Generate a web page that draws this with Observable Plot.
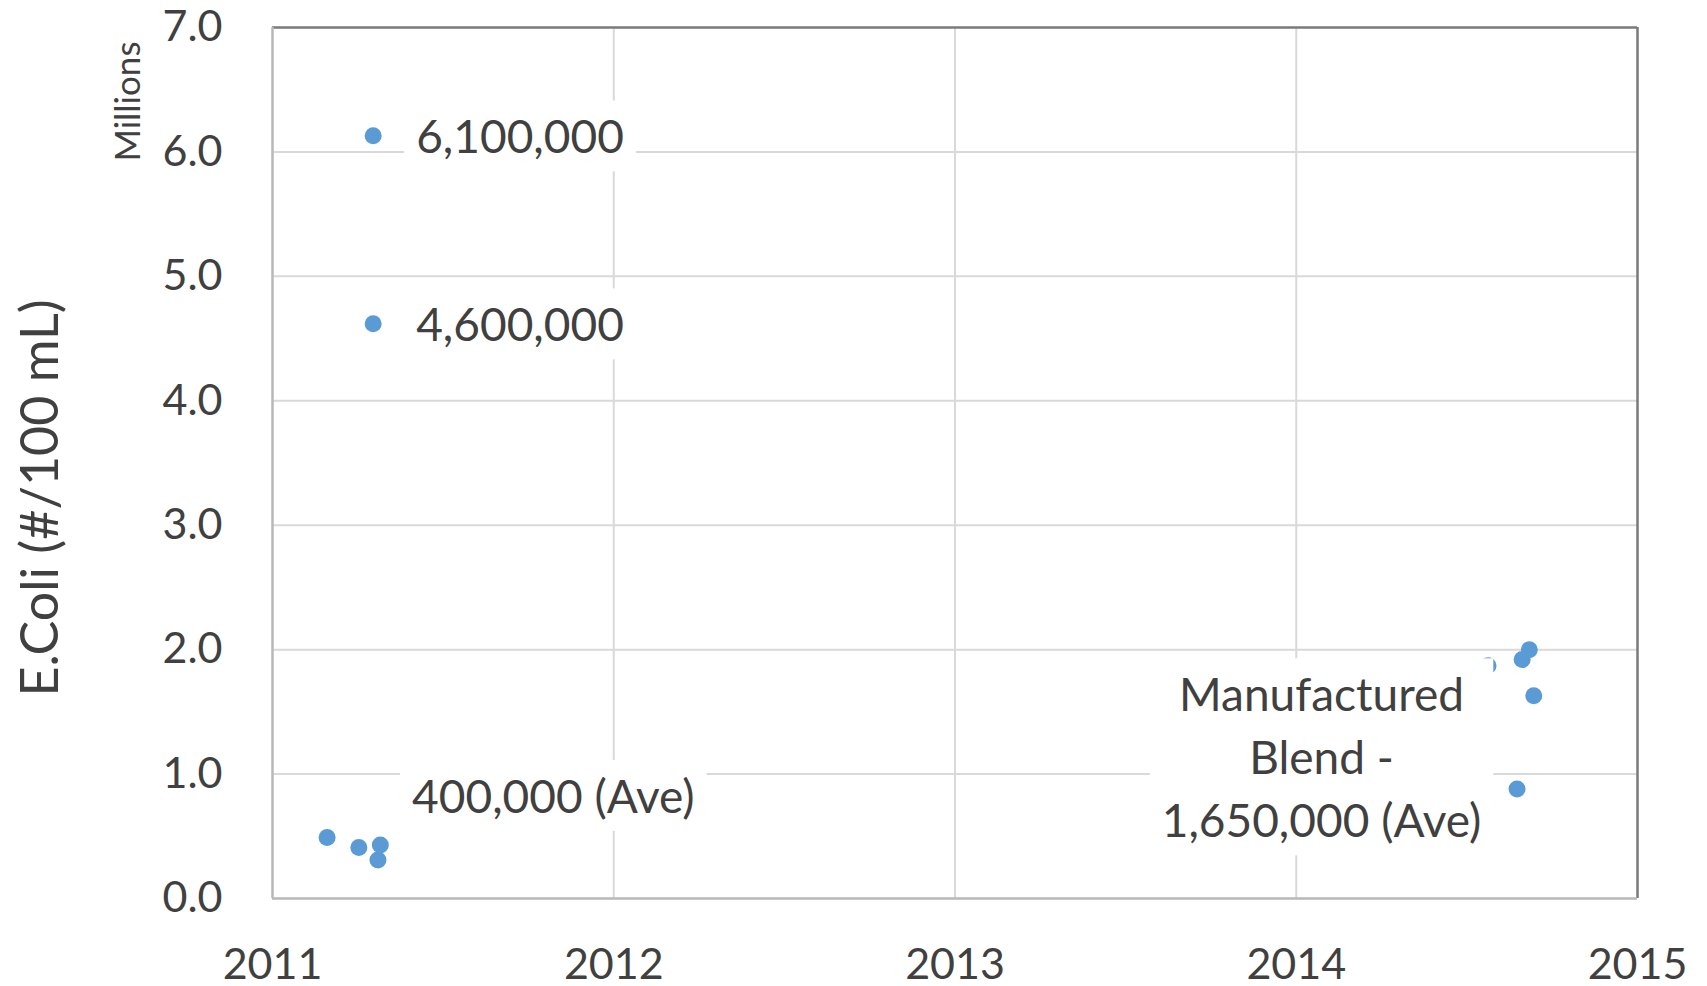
<!DOCTYPE html>
<html>
<head>
<meta charset="utf-8">
<script src="https://cdn.jsdelivr.net/npm/d3@7"></script>
<script src="https://cdn.jsdelivr.net/npm/@observablehq/plot@0.6"></script>
<style>
  html, body { margin: 0; padding: 0; background: #fff; }
</style>
</head>
<body>
<script>
// Sample dates (decimal year) and E. coli counts (millions per 100 mL)
const sampleDate = [2011.160, 2011.253, 2011.309, 2011.316, 2011.295, 2011.295, 2014.562, 2014.647, 2014.662, 2014.683, 2014.696];
const ecoliMillions = [0.49, 0.41, 0.31, 0.43, 6.13, 4.62, 1.87, 0.88, 1.92, 2.00, 1.63];

// Labelled individual points
const pointLabelDate = [2011.295, 2011.295];
const pointLabelValue = [6.13, 4.62];
const pointLabelText = ["6,100,000", "4,600,000"];

// Average annotations
const noteDate = [2011.823, 2014.074];
const noteValue = [0.85, 1.16];
const noteText = ["400,000 (Ave)", "Manufactured\nBlend -\n1,650,000 (Ave)"];

// Axes
const xTicks = [2011, 2012, 2013, 2014, 2015];
const yTicks = [0, 1, 2, 3, 4, 5, 6, 7];
const yTitle = "E.Coli (#/100 mL)";
const yUnit = "Millions";

const points = sampleDate.map((d, i) => ({date: d, value: ecoliMillions[i]}));
const pointLabels = pointLabelDate.map((d, i) => ({date: d, value: pointLabelValue[i], text: pointLabelText[i]}));
const notes = noteDate.map((d, i) => ({date: d, value: noteValue[i], text: noteText[i]}));

const textColor = "#404040";

const chart = Plot.plot({
  width: 1707,
  height: 986,
  marginLeft: 272,
  marginRight: 70,
  marginTop: 27,
  marginBottom: 88,
  style: {fontFamily: "Lato, sans-serif", fontSize: "43px", color: textColor, background: "#ffffff"},
  x: {domain: [xTicks[0], xTicks[xTicks.length - 1]]},
  y: {domain: [yTicks[0], yTicks[yTicks.length - 1]]},
  marks: [
    Plot.gridX(xTicks.slice(1, -1), {stroke: "#D9D9D9", strokeOpacity: 1, strokeWidth: 2}),
    Plot.gridY(yTicks.slice(1, -1), {stroke: "#D9D9D9", strokeOpacity: 1, strokeWidth: 2}),
    Plot.ruleX([xTicks[xTicks.length - 1]], {stroke: "#7A7A7A", strokeWidth: 2.5}),
    Plot.ruleY([yTicks[yTicks.length - 1]], {stroke: "#7A7A7A", strokeWidth: 2.5}),
    Plot.ruleX([xTicks[0]], {stroke: "#B8B8B8", strokeWidth: 2.5}),
    Plot.ruleY([yTicks[0]], {stroke: "#B8B8B8", strokeWidth: 2.5}),
    Plot.axisX({ticks: xTicks, tickFormat: d => String(d), tickSize: 0, tickPadding: 50, label: null, fontSize: 43}),
    Plot.axisY({ticks: yTicks, tickFormat: d3.format(".1f"), tickSize: 0, tickPadding: 50, label: null, fontSize: 43}),
    Plot.text([yTitle], {frameAnchor: "left", rotate: -90, dx: -231, dy: 35, fontSize: 52, fill: textColor, textAnchor: "middle"}),
    Plot.text([yUnit], {frameAnchor: "top-left", rotate: -90, dx: -144, dy: 74, fontSize: 35, fill: textColor, textAnchor: "middle", lineAnchor: "middle"}),
    Plot.dot(points, {x: "date", y: "value", r: 8.5, fill: "#5B9BD5", stroke: "none"}),
    Plot.text(pointLabels, {x: "date", y: "value", text: "text", dx: 43, dy: 3, textAnchor: "start", fontSize: 46, fill: textColor}),
    Plot.text(notes, {x: "date", y: "value", text: "text", textAnchor: "middle", lineAnchor: "middle", lineHeight: 1.37, fontSize: 46, fill: textColor})
  ]
});

document.body.append(chart);

// White label backgrounds (like Excel data-label boxes), sized from each text's own bounding box
const boxed = new Set(pointLabelText.concat(noteText.map(s => s.replace(/\n/g, ""))));
const padX = 12, padY = 8;
Array.from(chart.querySelectorAll("text"))
  .filter(t => boxed.has(t.textContent.replace(/\n/g, "")))
  .forEach(t => {
    const b = t.getBBox();
    const r = document.createElementNS("http://www.w3.org/2000/svg", "rect");
    r.setAttribute("x", b.x - padX);
    r.setAttribute("y", b.y - padY);
    r.setAttribute("width", b.width + 2 * padX);
    r.setAttribute("height", b.height + 2 * padY);
    r.setAttribute("fill", "#ffffff");
    const tr = t.getAttribute("transform");
    if (tr) r.setAttribute("transform", tr);
    t.parentNode.insertBefore(r, t);
  });
</script>
</body>
</html>
